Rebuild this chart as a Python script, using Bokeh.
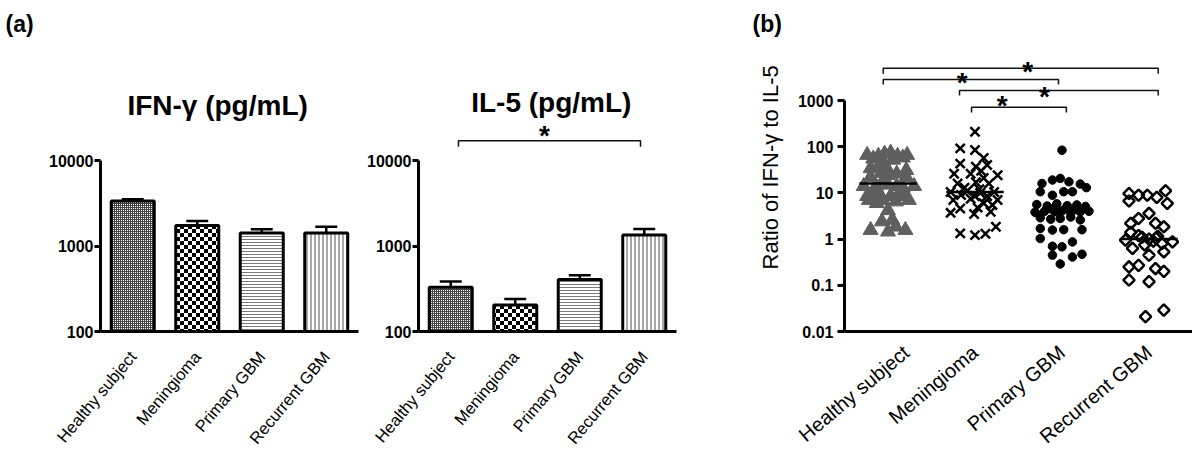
import math
from bokeh.plotting import figure
from bokeh.models import (FactorRange, Range1d, FixedTicker, CanvasTexture,
                          CustomJSTickFormatter)
from bokeh.layouts import row, column
from bokeh.embed import file_html
from bokeh.resources import INLINE
from bokeh.core.properties import value

FONT = "Liberation Sans"

# ---------------- data ----------------
groups = ["Healthy subject", "Meningioma", "Primary GBM", "Recurrent GBM"]

ifn_mean = [3370, 1740, 1420, 1420]
ifn_err_top = [3530, 1970, 1580, 1680]
il5_mean = [330, 205, 405, 1350]
il5_err_top = [385, 240, 455, 1590]

healthy_ratio = [66, 63, 74, 63, 66, 55, 70, 58, 50, 52,
                 34, 31, 31, 40,
                 22, 24, 22, 27, 26,
                 14, 14, 15, 14, 13, 14, 18,
                 8.5, 9, 8.5, 8.5, 10, 10,
                 7, 7, 6.5, 7, 6,
                 4.2, 2.6, 2.4, 1.85, 1.57, 1.45, 1.57]
healthy_spread = [-0.24, -0.11, 0.03, 0.11, 0.22, -0.17, -0.04, 0.17, -0.06, 0.06,
                  -0.2, 0.0, 0.21, -0.1,
                  -0.2, 0.0, 0.21, -0.08, 0.1,
                  -0.28, -0.14, 0.0, 0.1, 0.17, 0.3, -0.06,
                  -0.24, -0.09, 0.03, 0.2, 0.13, -0.17,
                  -0.22, -0.06, 0.09, 0.24, -0.13,
                  0.0, 0.05, -0.07, 0.09, -0.2, 0.0, 0.2]

meningioma_ratio = [210, 92, 85, 57, 43, 40, 37, 30,
                    26, 26, 24, 21,
                    16, 17, 16, 13, 12,
                    10.5, 11, 10, 10.5, 9, 8.5, 8.5,
                    7, 7.5, 7, 6, 5.5,
                    4.6, 4.8, 3.9, 3.7, 3.5,
                    1.85, 1.33, 1.22, 1.3]
meningioma_spread = [0.0, -0.17, 0.0, 0.1, -0.17, 0.14, 0.01, 0.07,
                     -0.24, -0.05, 0.26, 0.1,
                     -0.2, 0.01, 0.16, -0.12, 0.05,
                     -0.28, -0.09, 0.06, 0.22, -0.16, 0.0, 0.14,
                     -0.25, -0.05, 0.26, 0.1, 0.2,
                     -0.17, 0.03, 0.18, -0.28, -0.01,
                     0.24, -0.17, 0.0, 0.12]

primary_ratio = [84,
                 16, 19, 20.6, 17.4, 15.5, 13,
                 10.6, 8.9, 10.6, 10.6,
                 5.6, 5.2, 5.8, 5.3, 5.5, 5.1,
                 3.8, 4.0, 3.9, 4.1, 3.7, 3.9, 4.0,
                 4.5, 4.7, 4.4,
                 2.9, 2.7, 2.8, 3.0, 2.6,
                 1.7, 1.57, 1.6, 1.6,
                 1.03, 0.7, 0.68, 0.87, 0.45, 0.41, 0.47, 0.29]
primary_spread = [0.0,
                  -0.23, -0.11, -0.02, 0.08, 0.21, 0.28,
                  -0.25, -0.11, 0.02, 0.12,
                  -0.29, -0.17, -0.06, 0.06, 0.17, 0.27,
                  -0.31, -0.2, -0.08, 0.0, 0.1, 0.21, 0.31,
                  -0.12, 0.05, 0.15,
                  -0.25, -0.13, -0.02, 0.1, 0.21,
                  -0.25, -0.11, 0.02, 0.23,
                  -0.25, -0.11, 0.0, 0.12, -0.11, 0.12, 0.23, -0.02]

recurrent_ratio = [9.7, 8.9, 8.9, 8.0, 11.1, 6.7, 5.9,
                   3.6, 2.8, 2.2, 2.2, 1.85,
                   1.4, 0.95, 1.1, 1.0, 0.9, 1.05, 0.8, 0.87, 1.2, 0.75, 1.15,
                   0.63, 0.45, 0.53,
                   0.25, 0.27, 0.23, 0.2, 0.13, 0.12,
                   0.021, 0.029]
recurrent_spread = [-0.23, -0.12, -0.02, 0.09, 0.19, -0.23, 0.21,
                    0.0, -0.12, -0.21, 0.075, 0.17,
                    -0.21, -0.27, -0.08, 0.0, 0.05, 0.08, 0.15, 0.27, -0.12, -0.05, 0.1,
                    -0.19, 0.0, 0.17,
                    -0.23, -0.12, 0.075, 0.17, -0.23, 0.0,
                    -0.04, 0.17]

ratio_median = [16, 10.5, 3.9, 1.0]

ifn_ticks = [100, 1000, 10000]
ratio_ticks = [0.01, 0.1, 1, 10, 100, 1000]

panel_tags = ["(a)", "(b)"]
ratio_label = "Ratio of IFN-γ  to IL-5"

# ---------------- helpers ----------------
STRIP_H = 45
ROW_H = 420


def plain_fig(width, height, xr, yr):
    p = figure(width=width, height=height, title=None, x_range=xr, y_range=yr,
               x_axis_type=None, y_axis_type=None, output_backend="svg",
               toolbar_location=None, min_border=0,
               min_border_left=0, min_border_right=0, min_border_top=0, min_border_bottom=0)
    p.outline_line_color = None
    p.background_fill_color = "white"
    p.border_fill_color = "white"
    return p


def base_fig(width, y_start, y_end, left, right, bottom):
    p = figure(width=width, height=ROW_H, title=None,
               x_range=FactorRange(factors=groups), y_range=Range1d(y_start, y_end),
               y_axis_type="log", output_backend="svg", toolbar_location=None,
               min_border_left=left, min_border_right=right,
               min_border_top=0, min_border_bottom=bottom)
    p.outline_line_color = None
    p.xgrid.visible = False
    p.ygrid.visible = False
    p.background_fill_color = "white"
    p.border_fill_color = "white"
    return p


def style_axes(p, ticks, bounds, tick_out, standoff, xlab_size, xlab_angle, xlab_standoff):
    ya = p.yaxis[0]
    ya.ticker = FixedTicker(ticks=ticks)
    ya.formatter = CustomJSTickFormatter(code="return String(tick);")
    ya.bounds = bounds
    ya.axis_line_width = 3
    ya.axis_line_color = "black"
    ya.major_tick_line_width = 3
    ya.major_tick_out = tick_out
    ya.major_tick_in = 0
    ya.minor_tick_line_color = None
    ya.major_label_text_font = FONT
    ya.major_label_text_font_style = "bold"
    ya.major_label_text_font_size = "16px"
    ya.major_label_text_color = "black"
    ya.major_label_standoff = standoff

    xa = p.xaxis[0]
    xa.axis_line_width = 3
    xa.axis_line_color = "black"
    xa.major_tick_line_color = None
    xa.minor_tick_line_color = None
    xa.major_label_orientation = xlab_angle
    xa.major_label_text_font = FONT
    xa.major_label_text_font_size = xlab_size
    xa.major_label_text_color = "black"
    xa.major_label_standoff = xlab_standoff


# textures: the tile canvas is sized explicitly, then drawn in device pixels
fine_mesh = CanvasTexture(code="""
var cv = ctx.canvas; cv.width = 4; cv.height = 4;
var g = cv.getContext('2d');
g.setTransform(1, 0, 0, 1, 0, 0);
g.fillStyle = '#444444'; g.fillRect(0, 0, 4, 4);
g.fillStyle = '#ffffff';
g.fillRect(1, 1, 1, 1); g.fillRect(3, 1, 1, 1); g.fillRect(1, 3, 1, 1); g.fillRect(3, 3, 1, 1);
""")
coarse_checker = CanvasTexture(code="""
var cv = ctx.canvas; cv.width = 8; cv.height = 8;
var g = cv.getContext('2d');
g.setTransform(1, 0, 0, 1, 0, 0);
g.fillStyle = '#ffffff'; g.fillRect(0, 0, 8, 8);
g.fillStyle = '#000000'; g.fillRect(0, 0, 4, 4); g.fillRect(4, 4, 4, 4);
""")
textures = {"finemesh": fine_mesh, "coarsechk": coarse_checker}
bar_styles = [
    dict(hatch_pattern=value("finemesh"), hatch_scale=4, hatch_color="#444444"),
    dict(hatch_pattern=value("coarsechk"), hatch_scale=8, hatch_color="#000000"),
    dict(hatch_pattern="horizontal_line", hatch_scale=3, hatch_weight=1, hatch_color="#7a7a7a"),
    dict(hatch_pattern="vertical_line", hatch_scale=4, hatch_weight=1, hatch_color="#505050"),
]


def draw_bars(p, means, tops):
    for g, m, st in zip(groups, means, bar_styles):
        p.vbar(x=[g], top=[m], bottom=100, width=0.667, fill_color="white",
               line_color="black", line_width=3, hatch_extra=textures, **st)
    centers = [i + 0.5 for i in range(len(groups))]
    p.segment(x0=centers, y0=means, x1=centers, y1=tops, line_color="black", line_width=2.5)
    p.segment(x0=[c - 0.17 for c in centers], y0=tops, x1=[c + 0.17 for c in centers], y1=tops,
              line_color="black", line_width=2.5)


def bracket(p, x0, x1, level, end, width=1.5):
    p.multi_line(xs=[[x0, x0, x1, x1]], ys=[[end, level, level, end]],
                 line_color="#111111", line_width=width)


def star(p, x, y, size="28px"):
    p.text(x=[x], y=[y], text=["*"], text_font=value(FONT), text_font_style="bold",
           text_font_size=size, text_align="center", text_baseline="alphabetic",
           y_offset=6, text_color="black")


def title_text(p, x, y, txt):
    p.text(x=[x], y=[y], text=[txt], text_font=value(FONT), text_font_style="bold",
           text_font_size="28px", text_align="center", text_baseline="alphabetic",
           y_offset=-10, text_color="black")


# ---------------- top strip: panel tags ----------------
strip = plain_fig(1192, STRIP_H, Range1d(0, 1192), Range1d(0, STRIP_H))
strip.text(x=[5, 752], y=[13.3, 13.3], text=panel_tags, text_font=value(FONT),
           text_font_style="bold", text_font_size="23px", text_align="left",
           text_baseline="alphabetic", y_offset=-8, text_color="black")

# ---------------- panel (a) left: IFN-gamma ----------------
A_ANGLE = math.radians(50)
top_a = 10 ** (2 + 288 / 86)
p1 = base_fig(360, 100, top_a, 100, 2, 132)
style_axes(p1, ifn_ticks, (100, 10000), 6, 1, "16.5px", A_ANGLE, 16)
draw_bars(p1, ifn_mean, ifn_err_top)
title_text(p1, 1.876, 10 ** 4.535, "IFN-γ  (pg/mL)")

# ---------------- panel (a) right: IL-5 ----------------
p2 = base_fig(385, 100, top_a, 58, 69, 132)
style_axes(p2, ifn_ticks, (100, 10000), 6, 1, "16.5px", A_ANGLE, 16)
draw_bars(p2, il5_mean, il5_err_top)
title_text(p2, 2.059, 10 ** 4.566, "IL-5 (pg/mL)")
bracket(p2, 0.62, 3.442, 17100, 14550)
star(p2, 1.953, 22900)

# ---------------- panel (b): y label strip ----------------
plab = plain_fig(49, ROW_H, Range1d(0, 49), Range1d(0, ROW_H))
plab.text(x=[24.5], y=[245.5], text=[ratio_label], angle=math.pi / 2,
          text_font=value(FONT), text_font_size="22px", text_align="center",
          text_baseline="middle", text_color="black")

# ---------------- panel (b): ratio ----------------
top_b = 10 ** (-2 + 286 / 46.2)
p3 = base_fig(398, 0.01, top_b, 50, 0, 134)
style_axes(p3, ratio_ticks, (0.01, 1000), 7, 4, "20px", math.radians(40), 12)

p3.scatter(x=[0.5 + s for s in healthy_spread], y=healthy_ratio, marker="triangle",
           size=15, fill_color="#5f5f5f", line_color="#5f5f5f", line_width=1)
p3.scatter(x=[1.5 + s for s in meningioma_spread], y=meningioma_ratio, marker="x",
           size=13, line_color="black", line_width=2.5)
p3.scatter(x=[2.5 + s for s in primary_spread], y=primary_ratio, marker="circle",
           size=8.5, fill_color="black", line_color="black")
p3.scatter(x=[3.5 + s for s in recurrent_spread], y=recurrent_ratio, marker="square",
           angle=math.pi / 4, size=8, fill_color=None, line_color="black", line_width=2.5)

mc = [i + 0.5 for i in range(len(groups))]
p3.segment(x0=[c - 0.33 for c in mc], y0=ratio_median, x1=[c + 0.33 for c in mc],
           y1=ratio_median, line_color="black", line_width=2.5)

bracket(p3, 0.445, 3.606, 5000, 3785)
bracket(p3, 0.445, 2.46, 2850, 2220)
bracket(p3, 1.322, 3.606, 1645, 1282)
bracket(p3, 1.46, 2.55, 716, 550)
star(p3, 2.107, 5730)
star(p3, 1.353, 3300)
star(p3, 2.299, 1645)
star(p3, 1.813, 1035)

layout = column(strip, row(p1, p2, plab, p3, spacing=0), spacing=0)
open("out.html", "w").write(file_html(layout, INLINE))
